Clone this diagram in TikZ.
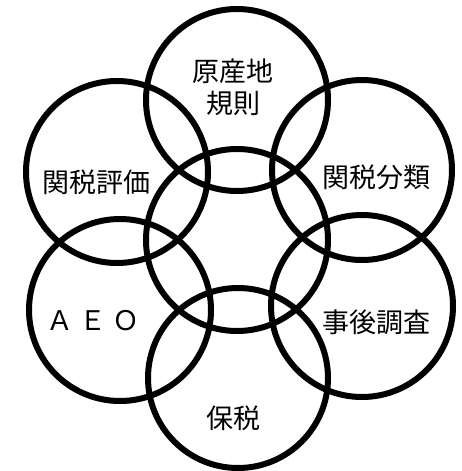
\documentclass[tikz,border=0pt]{standalone}
\usepackage{fontspec}
\newfontfamily\jp{Noto Sans CJK JP}
\usepackage{tikz}
\usetikzlibrary{positioning}
\tikzset{
  ring/.style={line width=6pt, draw=black},
  lbl/.style={font=\jp\fontsize{27}{32}\selectfont, align=center, inner sep=0pt}
}
\begin{document}
\begin{tikzpicture}[x=1pt,y=-1pt]
        \useasboundingbox (0,0) rectangle (461,471);
        % the seven rings
        \draw[ring] (237,240) circle (91);
        \draw[ring] (237,100) circle (91);
        \draw[ring] (238,378) circle (90);
        \draw[ring] (117,172) circle (91);
        \draw[ring] (362,170) circle (90);
        \draw[ring] (120,310) circle (91);
        \draw[ring] (362,306) circle (91);
        % labels
        \node[lbl] (origin) at (233,87) {原産地\\[0pt]規則};
        \node[lbl] (valuation) at (96,182) {関税評価};
        \node[lbl] (tariff) at (376,177) {関税分類};
        \node[lbl] (aeo) at (93,321) {Ａ\hspace{6pt}Ｅ\hspace{6pt}Ｏ};
        \node[lbl] (audit) at (376,322) {事後調査};
        \node[lbl] (bonded) at (233,418) {保税};
\end{tikzpicture}
\end{document}
